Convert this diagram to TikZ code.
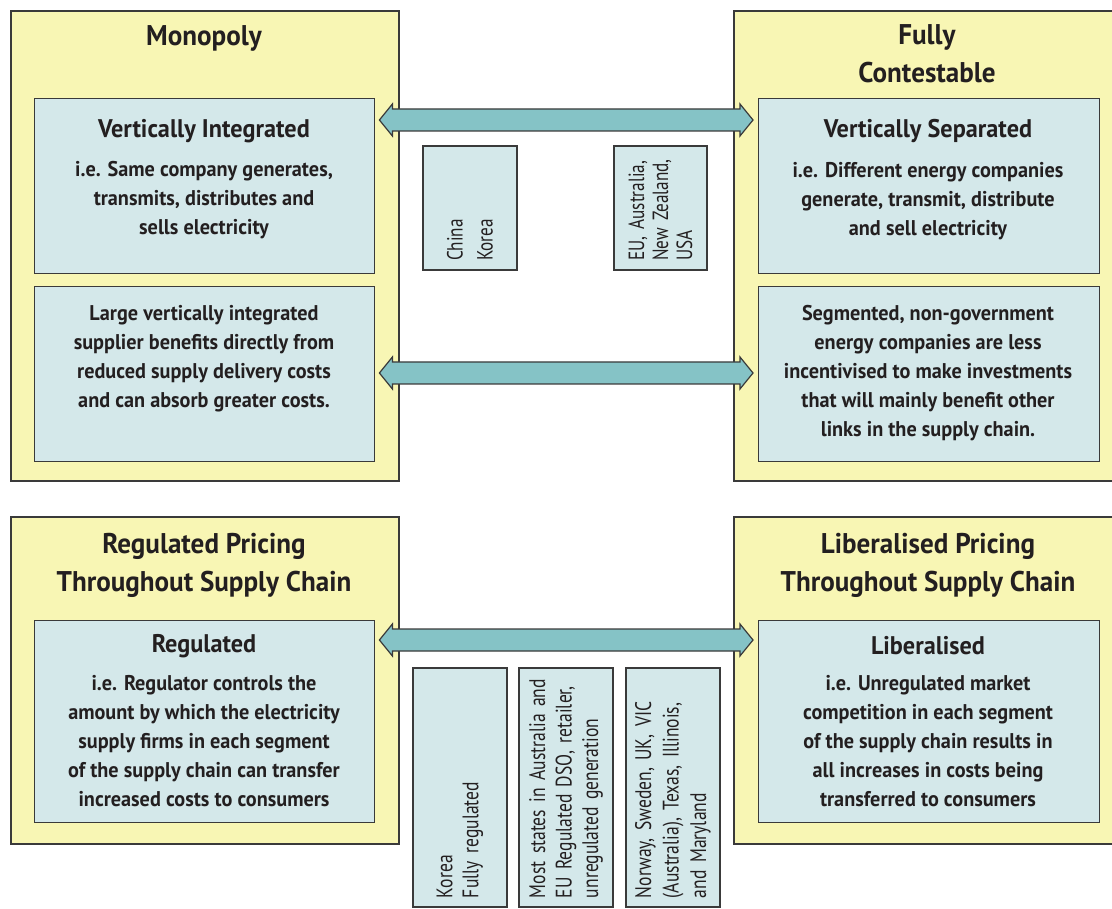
\documentclass[tikz,border=0pt]{standalone}
\usepackage{fontspec}
\setmainfont{PT Sans}[FakeStretch=0.95]
\newfontfamily\narrowf{PT Sans}[FakeStretch=0.78]
\usetikzlibrary{calc}
\definecolor{ybg}{HTML}{F8F6B4}
\definecolor{bbg}{HTML}{D4E8EA}
\definecolor{abg}{HTML}{85C3C6}
\definecolor{edge}{HTML}{3A3A3A}
\definecolor{ink}{HTML}{231F20}
\tikzset{
 outer/.style={draw=edge, line width=1.6pt, fill=ybg, inner sep=0pt, anchor=north west},
 inner/.style={draw=edge, line width=1.4pt, fill=bbg, inner sep=0pt, anchor=north west},
 ttl/.style={font=\bfseries\fontsize{28.5}{38}\selectfont, align=center, text=ink},
 sub/.style={font=\bfseries\fontsize{25.5}{29}\selectfont, text=ink},
 body/.style={font=\bfseries\fontsize{21.3}{29}\selectfont, align=center, text=ink},
 vbox/.style={draw=edge, line width=1.3pt, fill=bbg, rotate=90, inner sep=9pt, align=left, text=ink},
 arr/.style={draw=edge, line width=1.2pt, fill=abg, line join=miter}
}
\newcommand\dblarrow[3]{%
 \draw[arr] let \p1=(#1.east), \p2=(#2.west) in
 (\x1+4pt,-#3pt) -- (\x1+17pt,-#3pt+16pt) -- (\x1+17pt,-#3pt+11pt) --
 (\x2-18pt,-#3pt+11pt) -- (\x2-18pt,-#3pt+16pt) -- (\x2-5pt,-#3pt) --
 (\x2-18pt,-#3pt-16pt) -- (\x2-18pt,-#3pt-11pt) -- (\x1+17pt,-#3pt-11pt) --
 (\x1+17pt,-#3pt-16pt) -- cycle;}
\newcommand\nsp{\spaceskip=4.5pt plus 2pt minus 1pt\relax}
\begin{document}
\begin{tikzpicture}[x=1pt,y=-1pt]
\useasboundingbox (0,0) rectangle (1112,909);
\clip (0,0) rectangle (1112,909);
% outer panels
\node[outer, minimum width=388pt, minimum height=470pt] (TL) at (10,10) {};
\node[outer, minimum width=400pt, minimum height=470pt] (TR) at (733,10) {};
\node[outer, minimum width=388pt, minimum height=327pt] (BL) at (10,516) {};
\node[outer, minimum width=400pt, minimum height=327pt] (BR) at (733,516) {};
% inner boxes
\node[inner, minimum width=340pt, minimum height=175pt] (TL1) at (34,98) {};
\node[inner, minimum width=340pt, minimum height=175pt] (TL2) at (34,286) {};
\node[inner, minimum width=341pt, minimum height=175pt] (TR1) at (758,98) {};
\node[inner, minimum width=341pt, minimum height=175pt] (TR2) at (758,286) {};
\node[inner, minimum width=340pt, minimum height=202pt] (BL1) at (34,620) {};
\node[inner, minimum width=341pt, minimum height=202pt] (BR1) at (758,620) {};
% titles
\node[ttl] (tTL) at (204,38) {Monopoly};
\node[ttl] (tTR) at (927,54) {Fully\\Contestable};
\node[ttl] (tBL) at (204,565) {Regulated Pricing\\Throughout Supply Chain};
\node[ttl] (tBR) at (928,565) {Liberalised Pricing\\Throughout Supply Chain};
% subtitles and body
\node[sub] (sTL1) at (204,131) {Vertically Integrated};
\node[body] (bTL1) at (204,200) {i.e. Same company generates,\\transmits, distributes and\\sells electricity};
\node[body] (bTL2) at (204,359) {Large vertically integrated\\supplier benefits directly from\\reduced supply delivery costs\\and can absorb greater costs.};
\node[sub] (sTR1) at (928,131) {Vertically Separated};
\node[body] (bTR1) at (928,201) {i.e. Different energy companies\\generate, transmit, distribute\\and sell electricity};
\node[body] (bTR2) at (928,373) {Segmented, non-government\\energy companies are less\\incentivised to make investments\\that will mainly benefit other\\links in the supply chain.};
\node[sub] (sBL1) at (204,646) {Regulated};
\node[body] (bBL1) at (204,741) {i.e. Regulator controls the\\amount by which the electricity\\supply firms in each segment\\of the supply chain can transfer\\increased costs to consumers};
\node[sub] (sBR1) at (928,646) {Liberalised};
\node[body] (bBR1) at (928,741) {i.e. Unregulated market\\competition in each segment\\of the supply chain results in\\all increases in costs being\\transferred to consumers};
% arrows
\dblarrow{TL1}{TR1}{120}
\dblarrow{TL2}{TR2}{373}
\dblarrow{BL1}{BR1}{640}
% rotated example boxes
\node[vbox, minimum width=124pt, minimum height=94pt, text width=106pt, font=\narrowf\fontsize{22}{30}\selectfont\nsp] (cn) at (470,208) {China\\Korea};
\node[vbox, minimum width=124pt, minimum height=93pt, text width=106pt, font=\narrowf\fontsize{22}{24}\selectfont\nsp] (eu) at (660.5,208) {EU, Australia,\\New Zealand,\\USA};
\node[vbox, minimum width=239pt, minimum height=94pt, text width=221pt, font=\narrowf\fontsize{22.5}{26}\selectfont\nsp] (kr) at (460,787.5) {Korea\\Fully regulated};
\node[vbox, minimum width=239pt, minimum height=94pt, text width=221pt, font=\narrowf\fontsize{22.5}{26.5}\selectfont\nsp] (au) at (566,787.5) {Most states in Australia and\\EU Regulated DSO, retailer,\\unregulated generation};
\node[vbox, minimum width=239pt, minimum height=94pt, text width=221pt, font=\narrowf\fontsize{22.5}{27.5}\selectfont\nsp] (no) at (673,787.5) {Norway, Sweden, UK, VIC\\(Australia), Texas, Illinois,\\and Maryland};
\end{tikzpicture}
\end{document}
